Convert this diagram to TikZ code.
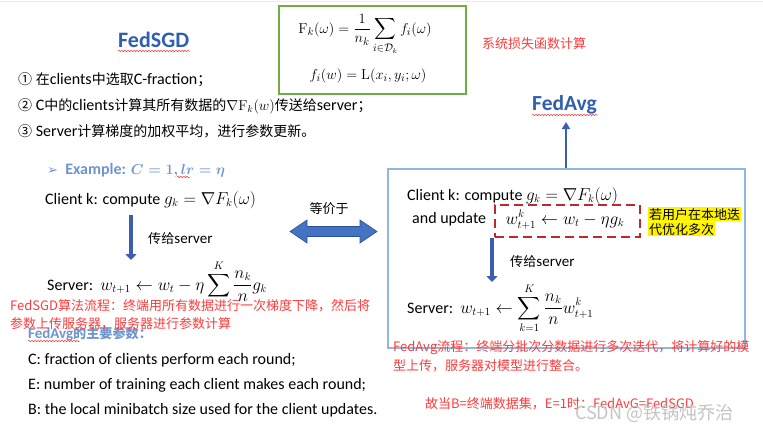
\documentclass[tikz,border=0pt]{standalone}
\usepackage{amsmath,amssymb}
\usepackage[no-math]{fontspec}
\setmainfont{Carlito}
\newfontfamily\cjk[Scale=0.875]{Noto Sans CJK SC}
\newfontfamily\cjkf{Noto Sans CJK SC}
\newfontfamily\djv{DejaVu Sans}
\usetikzlibrary{arrows.meta,decorations.pathmorphing}
\definecolor{titleblue}{HTML}{2F5FAE}
\definecolor{exblue}{HTML}{6F95D0}
\definecolor{arrowblue}{HTML}{3D5DB0}
\definecolor{dblfill}{HTML}{4472C4}
\definecolor{dbldraw}{HTML}{2F528F}
\definecolor{boxblue}{HTML}{8FB8E0}
\definecolor{boxgreen}{HTML}{70AD47}
\definecolor{annred}{HTML}{FF3B3B}
\definecolor{dashred}{HTML}{C0282D}
\definecolor{wmgray}{HTML}{C4C4C4}
\newcommand\zh[1]{{\cjk #1}}
\begin{document}
\begin{tikzpicture}[x=1pt,y=-1pt,
  txt/.style={anchor=base west,inner sep=0pt,font=\fontsize{16}{19}\selectfont},
  smalltxt/.style={anchor=base west,inner sep=0pt,font=\fontsize{15}{18}\selectfont},
  ann/.style={anchor=base west,inner sep=0pt,text=annred,font=\fontsize{13}{16}\selectfont\cjkf},
  ttl/.style={anchor=base west,inner sep=0pt,text=titleblue,font=\fontsize{22}{26}\selectfont\bfseries},
  wavy/.style={draw=annred,line width=0.5pt,decorate,decoration={snake,amplitude=0.7pt,segment length=3pt}},
  downarrow/.style={draw=arrowblue,line width=4.5pt,-{Triangle[length=6pt,width=11pt]}},
  hl/.style={anchor=base west,inner sep=1pt,fill=yellow,font=\fontsize{13}{16}\selectfont\cjkf},
]
\useasboundingbox (0,0) rectangle (763,431);
\fill[white] (0,0) rectangle (763,431);
\draw[gray!15,line width=1pt] (0,1.5) -- (763,1.5);

% ---------- FedSGD left part ----------
\node[ttl] (sgdtitle) at (118,47) {FedSGD};
\draw[wavy] (118,51) -- (190,51);

\node[txt] (item1) at (18,84) {{\cjk ①}\ \zh{在}clients\zh{中选取}C-fraction\zh{；}};
\node[txt] (item2) at (18,110) {{\cjk ②}\ C\zh{中的}clients\zh{计算其所有数据的}{\fontsize{14}{16}\selectfont$\nabla\mathrm{F}_k(w)$}\zh{传送给}server\zh{；}};
\node[txt] (item3) at (18,136) {{\cjk ③}\ Server\zh{计算梯度的加权平均，进行参数更新。}};

% green loss box
\node[draw=boxgreen,line width=2pt,minimum width=187pt,minimum height=88pt,anchor=north west,inner sep=0pt] (lossbox) at (278,5) {};
\node[anchor=base,inner sep=0pt,font=\fontsize{15}{18}\selectfont] (f1) at (365,33) {$\displaystyle \mathrm{F}_k(\omega)=\frac{1}{n_k}\sum_{i\in\mathcal{D}_k} f_i(\omega)$};
\node[anchor=base,inner sep=0pt,font=\fontsize{15}{18}\selectfont] (f2) at (368,79) {$f_i(w)=\mathrm{L}(x_i,y_i;\omega)$};
\node[ann] (lossnote) at (482,48) {系统损失函数计算};

% example
\node[txt,text=exblue,font=\fontsize{16}{19}\selectfont\bfseries] (ex) at (47,174) {{\djv\mdseries\fontsize{13}{15}\selectfont ➢}\ \ Example: {\fontsize{13.5}{16}\selectfont\boldmath$C=1,lr=\eta$}};
\draw[wavy] (177,177) -- (190,177);

\node[txt] (lclient) at (45,204) {Client k: compute $g_k=\nabla F_k(\omega)$};
\coordinate (la1) at (131,215);
\coordinate (la2) at (131,260);
\draw[downarrow] (la1) -- (la2);
\node[smalltxt] (ltrans) at (148,243) {\zh{传给}server};
\node[txt] (lserver) at (47,290) {Server:\ \ $\displaystyle w_{t+1}\leftarrow w_t-\eta\sum^{K}\frac{n_k}{n}g_k$};

% equivalence arrow
\node[inner sep=0pt,font=\fontsize{13}{16}\selectfont\cjkf] (equiv) at (329,209) {等价于};
\fill[dblfill,draw=dbldraw,line width=0.6pt] (290,231.5) -- (307,220) -- (307,226.5) -- (360,226.5) -- (360,220) -- (377,231.5) -- (360,243) -- (360,236.5) -- (307,236.5) -- (307,243) -- cycle;

% ---------- FedAvg right part ----------
\node[ttl,font=\fontsize{21.5}{26}\selectfont\bfseries] (avgtitle) at (532,110) {FedAvg};
\draw[wavy] (532,115) -- (597,115);
\node[draw=boxblue,line width=1.6pt,minimum width=357pt,minimum height=179pt,anchor=north west,inner sep=0pt] (avgbox) at (387,168) {};
\draw[draw=arrowblue,line width=2pt,-{Triangle[length=7pt,width=8pt]}] (avgbox.north -| 566,0) -- (566,122);

\node[txt] (rclient) at (407,200) {Client k: compute $g_k=\nabla F_k(\omega)$};
\node[txt] (andupd) at (412,223) {and update};
\node[draw=dashred,line width=1.8pt,dash pattern=on 9pt off 5pt,minimum width=145pt,minimum height=32pt,inner sep=0pt] (dbox) at (567.5,221) {};
\node[txt,anchor=base] (upd) at (565,224) {$w_{t+1}^{k}\leftarrow w_t-\eta g_k$};
\node[hl] (hl1) at (648,219) {若用户在本地迭};
\node[hl] (hl2) at (648,234) {代优化多次};

\coordinate (ra1) at (492,238);
\coordinate (ra2) at (492,282);
\draw[downarrow] (ra1) -- (ra2);
\node[smalltxt] (rtrans) at (510,266) {\zh{传给}server};
\node[txt] (rserver) at (407,313) {Server:\ \ $\displaystyle w_{t+1}\leftarrow\sum_{k=1}^{K}\frac{n_k}{n}w_{t+1}^{k}$};

% ---------- parameters ----------
\node[anchor=base west,inner sep=0pt,text=exblue,font=\fontsize{15}{18}\selectfont\bfseries] (params) at (28,338) {FedAvg{\cjk 的主要参数：}};
\draw[wavy] (28,341) -- (80,341);
\node[txt] (pc) at (28,364) {C: fraction of clients perform each round;};
\node[txt] (pe) at (28,389) {E: number of training each client makes each round;};
\node[txt] (pb) at (28,414) {B: the local minibatch size used for the client updates.};

% ---------- red annotations ----------
\node[ann] (sgdnote1) at (10,310.5) {FedSGD算法流程：终端用所有数据进行一次梯度下降，然后将};
\node[ann] (sgdnote2) at (10,328.5) {参数上传服务器，服务器进行参数计算};
\node[ann] (avgnote1) at (393,351.5) {FedAvg流程：终端分批次分数据进行多次迭代，将计算好的模};
\node[ann] (avgnote2) at (393,370.5) {型上传，服务器对模型进行整合。};
\node[ann] (concl) at (425,408.5) {故当B=终端数据集，E=1时：FedAvG=FedSGD};

\node[anchor=base west,inner sep=0pt,text=wmgray,font=\fontsize{18}{21}\selectfont\cjkf] (wm) at (575,419) {CSDN @铁锅炖乔治};
\end{tikzpicture}
\end{document}
